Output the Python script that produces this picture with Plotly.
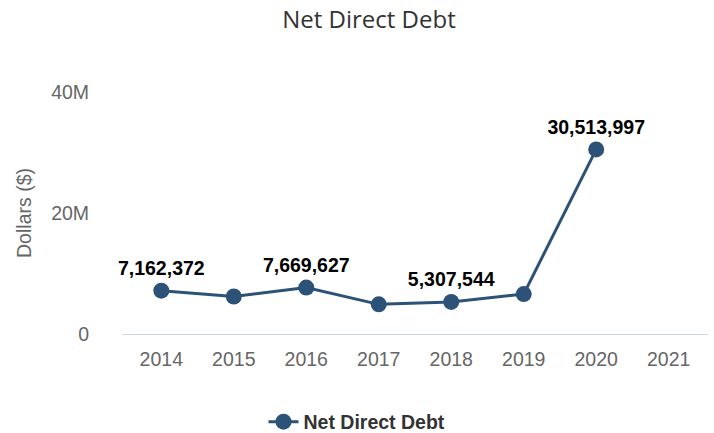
import plotly.graph_objects as go

# Net direct debt by fiscal year (dollars)
years = ["2014", "2015", "2016", "2017", "2018", "2019", "2020", "2021"]
net_direct_debt = [7162372, 6200000, 7669627, 4900000, 5307544, 6600000, 30513997, None]
labelled_years = ["2014", "2016", "2018", "2020"]

y_tick_vals = [0, 20_000_000, 40_000_000]
y_tick_text = ["0", "20M", "40M"]

LINE_COLOR = "#2c5277"
BASE_FONT = "Liberation Sans, Arial"
FONT_SIZE = 19.5

point_labels = [
    f"{v:,}" if (y in labelled_years and v is not None) else ""
    for y, v in zip(years, net_direct_debt)
]

fig = go.Figure()
fig.add_trace(go.Scatter(
    x=years,
    y=net_direct_debt,
    name="Net Direct Debt",
    mode="lines+markers+text",
    line=dict(color=LINE_COLOR, width=3),
    marker=dict(color=LINE_COLOR, size=16),
    text=point_labels,
    textposition="top center",
    textfont=dict(family=BASE_FONT, size=FONT_SIZE, color="#000000", weight="bold"),
    cliponaxis=False,
))

fig.update_layout(
    width=714,
    height=433,
    margin=dict(l=122, r=6, t=92, b=99),
    paper_bgcolor="white",
    plot_bgcolor="white",
    title=dict(
        text="Net Direct Debt",
        font=dict(family="Open Sans", size=24, color="#333333"),
        x=369 / 714, xref="container", xanchor="center",
        y=1 - 20 / 433, yref="container", yanchor="middle",
    ),
    showlegend=True,
    legend=dict(
        orientation="h",
        x=0.5, xref="container", xanchor="center",
        y=1 - 422 / 433, yref="container", yanchor="middle",
        font=dict(family=BASE_FONT, size=FONT_SIZE, color="#333333", weight="bold"),
    ),
    xaxis=dict(
        type="category",
        categoryorder="array",
        categoryarray=years,
        showgrid=False,
        zeroline=False,
        showline=True,
        linecolor="#ccd6eb",
        linewidth=1,
        ticks="outside",
        ticklen=8,
        tickcolor="rgba(0,0,0,0)",
        tickfont=dict(family=BASE_FONT, size=FONT_SIZE, color="#666666"),
    ),
    yaxis=dict(
        range=[0, 40_000_000],
        tickvals=y_tick_vals,
        ticktext=y_tick_text,
        showgrid=False,
        zeroline=False,
        showline=False,
        ticks="outside",
        ticklen=28,
        tickcolor="rgba(0,0,0,0)",
        tickfont=dict(family=BASE_FONT, size=FONT_SIZE, color="#666666"),
        title=dict(
            text="Dollars ($)",
            font=dict(family=BASE_FONT, size=FONT_SIZE, color="#666666"),
            standoff=14,
        ),
    ),
)

fig.write_html("out.html")
